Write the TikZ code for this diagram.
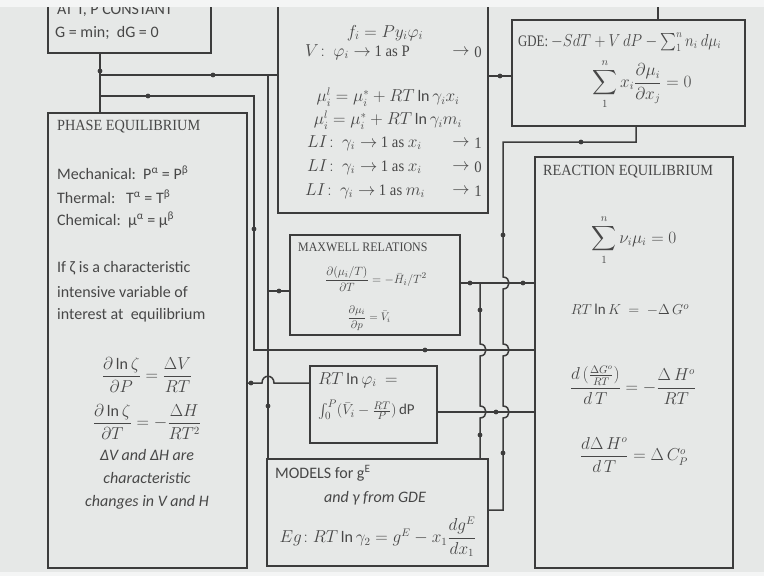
\documentclass[tikz,border=0pt]{standalone}
\usepackage{amsmath}
\usepackage{graphicx}
\usepackage{fontspec}
\setmainfont{Carlito}
\newfontfamily\hdfont[FakeStretch=0.92]{Liberation Serif}
\newcommand\sqz[2]{\scalebox{#1}[1]{#2}}
\definecolor{bg}{HTML}{E6E8E7}
\definecolor{lc}{HTML}{3C3C3C}
\definecolor{tc}{HTML}{474747}
\definecolor{band}{HTML}{F4F5F5}
\begin{document}
\begin{tikzpicture}[x=1pt,y=-1pt,
  box/.style={draw=lc, line width=1.7pt, fill=bg, inner sep=0pt, outer sep=0pt, rectangle},
  txt/.style={text=tc, inner sep=0pt, font=\fontsize{16}{20}\selectfont},
  hd/.style={text=tc, inner sep=0pt, font=\hdfont\fontsize{15.5}{18}\selectfont},
  conn/.style={draw=lc, line width=1.5pt},
  dotc/.style={fill=lc}
]
\useasboundingbox (0,0) rectangle (764,576);
\fill[bg] (0,0) rectangle (764,576);

% boxes
\node[box, minimum width=163pt, minimum height=93pt] (topbox) at (129.5,6.5) {};
\node[box, minimum width=210pt, minimum height=233pt] (fug) at (383,96.5) {};
\node[box, minimum width=233pt, minimum height=106pt] (gde) at (628.5,73) {};
\node[box, minimum width=199pt, minimum height=455pt] (phase) at (147.5,340.5) {};
\node[box, minimum width=198pt, minimum height=411pt] (reac) at (634,362.5) {};
\node[box, minimum width=170pt, minimum height=100pt] (maxw) at (375,285) {};
\node[box, minimum width=127pt, minimum height=77pt] (rtphi) at (373.5,404.5) {};
\node[box, minimum width=221pt, minimum height=107pt] (models) at (377.5,512.5) {};

% column / row coordinates
\coordinate (xa) at (100,0);
\coordinate (xb) at (254,0);
\coordinate (xc) at (268,0);
\coordinate (xd) at (480,0);
\coordinate (xe) at (503,0);
\coordinate (xf) at (636,0);
\coordinate (xg) at (658,0);
\coordinate (ya) at (0,75);
\coordinate (yb) at (0,96);
\coordinate (yc) at (0,142);
\coordinate (ym) at (0,283);
\coordinate (ymx) at (0,291);
\coordinate (yr) at (0,350);
\coordinate (yp) at (0,383);
\coordinate (yq) at (0,412);
\coordinate (yg) at (0,510);
\coordinate (gtop) at (658,-10);

% connectors
\draw[conn] (topbox.south -| xa) -- (phase.north -| xa);
\draw[conn] (xa |- ya) -- (fug.west |- ya);
\draw[conn] (xa |- yb) -- (xb |- yb) -- (xb |- yr) -- (reac.west |- yr);
\draw[conn] (xc |- ya) -- (xc |- models.north);
\draw[conn] (xc |- ymx) -- (maxw.west |- ymx);
\draw[conn] (phase.east |- yp) -- (262,383) .. controls (262,374) and (274,374) .. (274,383) -- (rtphi.west |- yp);
\draw[conn] (fug.east |- 0,76) -- (gde.west |- 0,76);
\draw[conn] (gde.south -| xf) -- (xf |- yc) -- (xe |- yc) -- (503,277)
  .. controls (511,277) and (511,289) .. (503,289) -- (503,344)
  .. controls (511,344) and (511,356) .. (503,356) -- (503,406)
  .. controls (511,406) and (511,418) .. (503,418) -- (xe |- yg) -- (models.east |- yg);
\draw[conn] (maxw.east |- ym) -- (reac.west |- ym);
\draw[conn] (xd |- ym) -- (480,344)
  .. controls (488,344) and (488,356) .. (480,356) -- (480,406)
  .. controls (488,406) and (488,418) .. (480,418) -- (models.north -| xd);
\draw[conn] (rtphi.east |- yq) -- (reac.west |- yq);
\draw[conn] (gde.north -| xg) -- (gtop);

% dots
\foreach \p in {(100,71),(213,75),(148,96),(254,229),(425,350),(268,406),(279,291),(251,383),(500,76),(581,142),(503,235),(503,453),(470,283),(523,283),(480,310),(480,435),(496,412)}
  \fill[dotc] \p circle[radius=2.4pt];

% top box text
\node[txt, anchor=west] (t1a) at (57,10) {AT T, P CONSTANT};
\node[txt, anchor=west] (t1b) at (55,33) {G = min;\ \ dG = 0};

% fugacity box
\node[txt, font=\fontsize{18}{20}\selectfont] (f1) at (385,33) {$f_i = P y_i \varphi_i$};
\node[txt, anchor=west] (f2) at (305,52) {$V\!:\ \varphi_i \to$ {\hdfont 1 as P}};
\node[txt] (f2a) at (461,52) {$\to$};
\node[txt] (f2b) at (478,52) {\hdfont 0};
\node[txt] (f3) at (388,97) {$\mu_i^l = \mu_i^* + RT\ln\gamma_i x_i$};
\node[txt] (f4) at (388,120) {$\mu_i^l = \mu_i^* + RT\ln\gamma_i m_i$};
\node[txt, anchor=west] (f5) at (307,143) {$LI\!:\ \gamma_i \to$ {\hdfont 1 as} $x_i$};
\node[txt] (f5a) at (461,143) {$\to$};
\node[txt] (f5b) at (478,143) {\hdfont 1};
\node[txt, anchor=west] (f6) at (307,167) {$LI\!:\ \gamma_i \to$ {\hdfont 1 as} $x_i$};
\node[txt] (f6a) at (461,167) {$\to$};
\node[txt] (f6b) at (478,167) {\hdfont 0};
\node[txt, anchor=west] (f7) at (305,191) {$LI\!:\ \gamma_i \to$ {\hdfont 1 as} $m_i$};
\node[txt] (f7a) at (461,191) {$\to$};
\node[txt] (f7b) at (478,191) {\hdfont 1};

% GDE box
\node[txt, anchor=west] (g1) at (518,42) {\sqz{0.87}{{\hdfont GDE:} $-SdT + V\,dP - \sum_1^n n_i\ d\mu_i$}};
\node[txt] (g2) at (642,84) {$\displaystyle\sum_1^n x_i \frac{\partial\mu_i}{\partial x_j} = 0$};

% phase box
\node[hd, anchor=west] (p0) at (57,127) {PHASE EQUILIBRIUM};
\node[txt, anchor=west] (p1) at (57,173) {Mechanical:\ \ P\textsuperscript{α} = P\textsuperscript{β}};
\node[txt, anchor=west] (p2) at (57,197) {Thermal:\ \ \ T\textsuperscript{α} = T\textsuperscript{β}};
\node[txt, anchor=west] (p3) at (57,220) {Chemical:\ \ μ\textsuperscript{α} = μ\textsuperscript{β}};
\node[txt, anchor=west] (p4) at (57,268) {If ζ is a characteristic};
\node[txt, anchor=west] (p5) at (57,292) {intensive variable of};
\node[txt, anchor=west] (p6) at (57,315) {interest at\ \ equilibrium};
\node[txt] (p7) at (147,375) {$\displaystyle\frac{\partial\ln\zeta}{\partial P} = \frac{\Delta V}{RT}$};
\node[txt] (p8) at (147,422) {$\displaystyle\frac{\partial\ln\zeta}{\partial T} = -\frac{\Delta H}{RT^2}$};
\node[txt] (p9) at (147,455) {\itshape ΔV and ΔH are};
\node[txt] (p10) at (147,478) {\itshape characteristic};
\node[txt] (p11) at (147,502) {\itshape changes in V and H};

% Maxwell box
\node[hd, anchor=west, font=\hdfont\fontsize{13}{15}\selectfont] (m0) at (298,247) {MAXWELL RELATIONS};
\node[txt, font=\fontsize{13}{15}\selectfont] (m1) at (376,279) {$\displaystyle\frac{\partial(\mu_i/T)}{\partial T} = -\bar{H}_i/T^2$};
\node[txt, font=\fontsize{11}{13}\selectfont] (m2) at (369,318) {$\displaystyle\frac{\partial\mu_i}{\partial p} = \bar{V}_i$};

% RT ln phi box
\node[txt, anchor=west] (r1) at (318,380) {$RT\ln\varphi_i\ =$};
\node[txt, anchor=west, font=\fontsize{15}{18}\selectfont] (r2) at (318,410) {$\int_0^P(\bar{V}_i - \frac{RT}{P})\,$dP};

% Models box
\node[txt, anchor=west] (d1) at (275,473) {MODELS for g\textsuperscript{E}};
\node[txt] (d2) at (375,498) {\itshape and γ from GDE};
\node[txt] (d3) at (378,537) {$Eg\!: RT\ln\gamma_2 = g^E - x_1\dfrac{dg^E}{dx_1}$};

% Reaction box
\node[hd, anchor=west] (e0) at (543,172) {REACTION EQUILIBRIUM};
\node[txt] (e1) at (634,240) {$\displaystyle\sum_1^n \nu_i\mu_i = 0$};
\node[txt, font=\fontsize{15}{18}\selectfont] (e2) at (630,310) {$RT\ln K\ =\ -\Delta\,G^o$};
\node[txt] (e3) at (633,385) {$\dfrac{d\,(\frac{\Delta G^o}{RT})}{d\,T} = -\dfrac{\Delta\,H^o}{RT}$};
\node[txt] (e4) at (634,455) {$\dfrac{d\Delta\,H^o}{d\,T} = \Delta\,C_P^o$};

% photo bands
\fill[band] (0,0) rectangle (764,6.5);
\fill[band] (0,572) rectangle (764,576);
\end{tikzpicture}
\end{document}
